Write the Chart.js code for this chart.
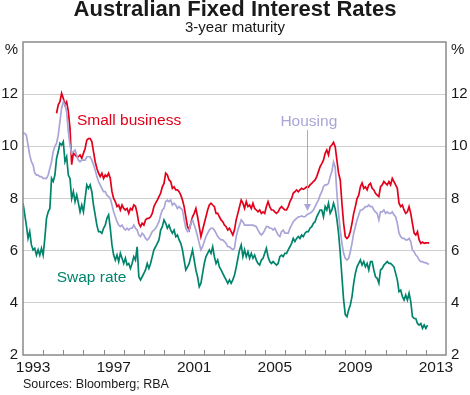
<!DOCTYPE html>
<html>
<head>
<meta charset="utf-8">
<script src="https://cdn.jsdelivr.net/npm/chart.js@4"></script>
<style>
  html, body { margin: 0; padding: 0; background: #fff; }
  #wrap { width: 470px; height: 395px; }
</style>
</head>
<body>
<div id="wrap"><canvas id="c" width="470" height="395"></canvas></div>
<script>
const xMin = 1993, xMax = 2014;
const xTickLabels = ['1993', '1997', '2001', '2005', '2009', '2013'];
const yTicks = [2, 4, 6, 8, 10, 12, 14];
const yTickLabels = ['2', '4', '6', '8', '10', '12', ''];

// month offsets (from Jan 1993) of each series' first observation
const swapStartMonth = 0;
const housingStartMonth = 0;
const businessStartMonth = 20;

const swapRate = [7.82,7.4,6.98,6.47,6.73,6.22,6.03,6.09,5.83,6.03,
5.83,6.09,5.83,6.47,7.24,7.49,7.62,8.77,8.65,8.9,
9.54,9.8,10.12,10.05,10.18,9.41,9.6,8.9,8.77,8.0,
8.26,7.88,8.13,7.82,7.49,7.75,7.49,8.0,8.52,8.39,
8.52,8.26,7.75,7.37,6.98,6.73,6.73,6.67,6.86,6.98,
7.24,7.37,6.86,6.22,5.83,5.64,5.83,5.58,5.9,5.71,
5.51,5.71,5.45,5.51,5.32,5.51,5.77,5.64,6.15,5.0,
4.88,5.0,5.13,5.26,5.51,5.32,5.51,5.77,6.03,6.15,
6.28,6.41,6.79,6.92,7.18,7.05,6.86,6.98,6.79,6.67,
6.79,6.54,6.6,6.41,6.28,6.03,5.64,5.26,5.38,5.51,
5.77,6.03,5.64,5.26,5.0,4.62,4.75,5.13,5.51,5.77,
5.9,6.03,5.9,6.15,5.77,5.51,5.64,5.38,5.26,5.13,
5.0,4.88,4.75,4.88,4.75,4.88,5.07,5.35,5.7,6.03,
6.22,5.77,6.03,5.77,5.96,5.71,5.9,5.71,5.83,5.64,
5.51,5.45,5.64,5.71,5.9,6.09,5.77,5.58,5.51,5.58,
5.51,5.45,5.51,5.77,5.83,5.77,5.9,5.9,6.03,6.15,
6.28,6.47,6.35,6.47,6.54,6.47,6.6,6.54,6.67,6.73,
6.73,6.86,6.92,7.05,7.11,7.3,7.43,7.56,7.56,7.3,
7.69,7.56,7.82,7.43,7.56,7.82,7.6,7.2,6.67,5.9,
5.0,4.11,3.55,3.47,3.73,3.92,4.24,4.75,5.13,5.38,
5.51,5.64,5.45,5.58,5.38,5.51,5.26,5.58,5.58,5.26,
5.0,4.94,4.75,5.26,5.32,5.45,5.51,5.58,5.51,5.51,
5.45,5.38,5.13,4.88,4.43,4.49,4.24,4.11,4.3,4.11,
4.37,4.05,3.47,3.4,3.4,3.21,3.15,3.21,3.02,3.15,
3.02,3.15];

const smallBusiness = [11.27,11.59,11.71,12.03,11.84,11.59,11.71,11.33,10.69,9.3,
9.75,9.67,9.6,9.6,9.67,9.54,9.73,9.92,10.24,10.3,
10.3,10.18,9.8,9.41,9.16,8.97,8.84,8.97,8.77,8.9,
8.84,8.97,8.77,8.26,8.0,7.88,7.69,7.75,7.56,7.75,
7.62,7.56,7.62,7.43,7.62,7.56,7.75,7.7,7.43,7.05,
6.92,7.05,6.98,7.18,7.24,7.24,7.3,7.43,7.69,7.82,
7.94,8.07,8.2,8.45,8.58,8.97,8.9,8.71,8.65,8.39,
8.45,8.33,8.33,8.26,8.13,7.94,7.69,7.3,6.92,6.79,
7.05,7.3,7.43,7.62,7.3,6.92,6.54,6.79,7.05,7.3,
7.56,7.75,7.82,7.75,7.69,7.43,7.43,7.3,7.18,7.11,
6.98,6.92,6.79,6.86,6.73,6.6,6.8,7.18,7.43,7.69,
7.94,7.82,7.62,7.88,7.69,7.75,7.62,7.82,7.62,7.56,
7.49,7.56,7.43,7.49,7.43,7.69,7.88,7.69,7.56,7.56,
7.49,7.43,7.49,7.62,7.69,7.62,7.56,7.56,7.69,7.88,
8.0,8.2,8.26,8.33,8.26,8.33,8.39,8.35,8.39,8.45,
8.43,8.52,8.58,8.65,8.71,8.84,9.03,9.22,9.34,9.47,
9.73,9.86,9.67,9.99,10.05,10.15,9.99,9.47,8.97,8.71,
7.82,7.05,6.54,6.47,6.54,6.73,7.05,7.43,7.69,8.0,
8.13,8.45,8.6,8.39,8.45,8.33,8.52,8.58,8.39,8.33,
8.2,8.13,8.07,8.45,8.52,8.65,8.58,8.52,8.65,8.52,
8.77,8.65,8.52,8.39,7.82,7.69,7.75,7.56,7.43,7.49,
7.69,7.43,7.05,6.67,6.6,6.73,6.41,6.28,6.33,6.28,
6.3,6.3,6.3];

const housing = [10.5,10.5,10.43,10.05,9.67,9.41,9.29,8.97,8.9,8.9,
8.84,8.84,8.77,8.77,8.77,8.9,9.16,9.41,9.8,9.99,
10.12,10.43,10.95,11.46,11.71,11.59,11.33,10.56,10.05,9.73,
9.8,9.86,9.67,9.47,9.41,9.47,9.47,9.47,9.6,9.6,
9.6,9.47,9.29,9.09,8.84,8.65,8.52,8.39,8.26,8.26,
8.13,8.07,8.0,7.75,7.49,7.3,7.11,6.98,6.92,6.98,
6.86,6.79,6.86,6.79,6.86,6.86,6.98,6.86,6.79,6.6,
6.54,6.67,6.6,6.47,6.41,6.47,6.6,6.73,6.79,6.86,
6.98,7.11,7.37,7.56,7.62,7.88,7.94,7.88,7.94,7.75,
7.82,7.75,7.62,7.69,7.62,7.56,7.18,6.86,6.73,6.79,
7.05,7.18,6.98,6.79,6.54,6.28,6.03,6.15,6.35,6.54,
6.67,6.79,6.86,6.86,6.79,6.67,6.54,6.47,6.41,6.41,
6.35,6.28,6.15,6.15,6.09,6.03,6.1,6.54,6.79,6.98,
7.18,7.11,6.98,6.98,6.98,6.98,6.98,6.98,6.95,6.92,
6.79,6.67,6.6,6.67,6.79,6.92,6.92,6.86,6.86,6.79,
6.86,6.73,6.6,6.54,6.73,6.79,6.67,6.67,6.67,6.86,
6.98,7.11,7.18,7.24,7.3,7.3,7.33,7.3,7.3,7.37,
7.41,7.43,7.49,7.56,7.69,7.82,7.94,8.13,8.26,8.45,
8.52,8.52,8.58,8.84,9.03,9.4,9.2,8.2,7.43,6.79,
6.28,5.9,5.71,5.64,5.71,5.96,6.28,6.67,6.92,7.18,
7.37,7.56,7.56,7.62,7.69,7.69,7.75,7.69,7.69,7.56,
7.49,7.43,7.18,7.49,7.49,7.56,7.43,7.49,7.43,7.43,
7.49,7.37,7.3,7.05,6.67,6.54,6.47,6.47,6.41,6.41,
6.47,6.35,6.03,5.96,5.83,5.77,5.64,5.58,5.58,5.54,
5.54,5.5,5.48];

// series label annotations (data coordinates)
const seriesLabels = [
  { text: 'Small business', x: 1995.68, y: 11.0, color: '#e2001a' },
  { text: 'Housing', x: 2005.78, y: 10.93, color: '#a9a5d8' },
  { text: 'Swap rate', x: 1994.67, y: 4.95, color: '#00846c' }
];
const housingArrow = { x: 2007.1, yFrom: 10.63, yTo: 7.52 };

// ---- build ----
function toPoints(values, startMonth) {
  return values.map((v, i) => ({ x: xMin + (startMonth + i) / 12, y: v }));
}
const FONT = "'Liberation Sans', Arial, sans-serif";
const FRAME = '#8a8a8a';

const decor = {
  id: 'decor',
  afterDatasetsDraw(chart) {
    const { ctx, chartArea: a, scales } = chart;
    const xs = scales.x, ys = scales.y;
    ctx.save();
    // frame
    ctx.strokeStyle = FRAME;
    ctx.lineWidth = 1.5;
    ctx.strokeRect(a.left, a.top, a.right - a.left, a.bottom - a.top);
    // year tick marks (inside, from the bottom)
    ctx.lineWidth = 1;
    ctx.beginPath();
    for (let yr = xMin + 1; yr < xMax; yr++) {
      const px = Math.round(xs.getPixelForValue(yr)) + 0.5;
      ctx.moveTo(px, a.bottom);
      ctx.lineTo(px, a.bottom - 5);
    }
    ctx.stroke();
    // series labels
    ctx.font = '15.5px ' + FONT;
    ctx.textBaseline = 'middle';
    ctx.textAlign = 'left';
    seriesLabels.forEach(l => {
      ctx.fillStyle = l.color;
      ctx.fillText(l.text, xs.getPixelForValue(l.x), ys.getPixelForValue(l.y));
    });
    // arrow
    const ax = Math.round(xs.getPixelForValue(housingArrow.x)) + 0.5;
    const y0 = ys.getPixelForValue(housingArrow.yFrom);
    const y1 = ys.getPixelForValue(housingArrow.yTo);
    ctx.strokeStyle = '#a9a5d8';
    ctx.fillStyle = '#a9a5d8';
    ctx.lineWidth = 1;
    ctx.beginPath();
    ctx.moveTo(ax, y0);
    ctx.lineTo(ax, y1 - 5);
    ctx.stroke();
    ctx.beginPath();
    ctx.moveTo(ax, y1);
    ctx.lineTo(ax - 3.5, y1 - 7);
    ctx.lineTo(ax + 3.5, y1 - 7);
    ctx.closePath();
    ctx.fill();
    // % units
    ctx.fillStyle = '#1a1a1a';
    ctx.font = '15px ' + FONT;
    ctx.textAlign = 'right';
    ctx.fillText('%', a.left - 5, ys.getPixelForValue(13.7));
    ctx.textAlign = 'left';
    ctx.fillText('%', a.right + 5, ys.getPixelForValue(13.7));
    // sources
    ctx.font = '12.5px ' + FONT;
    ctx.textBaseline = 'alphabetic';
    ctx.fillText('Sources: Bloomberg; RBA', a.left, 388);
    ctx.restore();
  }
};

const yAxisCommon = {
  type: 'linear',
  min: 2, max: 14,
  afterBuildTicks: s => { s.ticks = yTicks.map(v => ({ value: v })); },
  ticks: {
    color: '#1a1a1a',
    font: { family: FONT, size: 15 },
    padding: 5,
    callback: (v) => yTickLabels[yTicks.indexOf(v)]
  },
  border: { display: false },
};

new Chart(document.getElementById('c'), {
  type: 'line',
  data: {
    datasets: [
      { label: 'Housing', data: toPoints(housing, housingStartMonth), borderColor: '#a9a5d8' },
      { label: 'Small business', data: toPoints(smallBusiness, businessStartMonth), borderColor: '#e2001a' },
      { label: 'Swap rate', data: toPoints(swapRate, swapStartMonth), borderColor: '#00846c' }
    ]
  },
  options: {
    responsive: false,
    animation: false,
    devicePixelRatio: 1,
    parsing: true,
    elements: {
      point: { radius: 0 },
      line: { borderWidth: 1.7, tension: 0 }
    },
    layout: { padding: 0 },
    plugins: {
      legend: { display: false },
      tooltip: { enabled: false },
      title: {
        display: true,
        text: 'Australian Fixed Interest Rates',
        color: '#1a1a1a',
        font: { family: FONT, size: 22, weight: 'bold', lineHeight: '19px' },
        padding: { top: 0, bottom: 0 }
      },
      subtitle: {
        display: true,
        text: '3-year maturity',
        color: '#1a1a1a',
        font: { family: FONT, size: 15, lineHeight: '17px' },
        padding: { top: 0, bottom: 6 }
      }
    },
    scales: {
      x: {
        type: 'linear',
        min: xMin, max: xMax,
        afterBuildTicks: s => { s.ticks = xTickLabels.map(t => ({ value: Number(t) + 0.5 })); },
        afterFit: s => { s.height = 40; },
        grid: { display: false, drawTicks: false },
        border: { display: false },
        ticks: {
          autoSkip: false, maxRotation: 0,
          color: '#1a1a1a',
          font: { family: FONT, size: 15.5 },
          padding: 3,
          callback: (v) => xTickLabels.find(t => Number(t) + 0.5 === v)
        }
      },
      y: Object.assign({}, yAxisCommon, {
        position: 'left',
        afterFit: s => { s.width = 23; },
        grid: {
          drawTicks: false,
          color: ctx => (ctx.tick && (ctx.tick.value === 2 || ctx.tick.value === 14)) ? 'rgba(0,0,0,0)' : '#cfcfcf',
          lineWidth: 1
        }
      }),
      y2: Object.assign({}, yAxisCommon, {
        position: 'right',
        afterFit: s => { s.width = 24; },
        grid: { display: false, drawTicks: false }
      })
    }
  },
  plugins: [decor]
});
</script>
</body>
</html>
